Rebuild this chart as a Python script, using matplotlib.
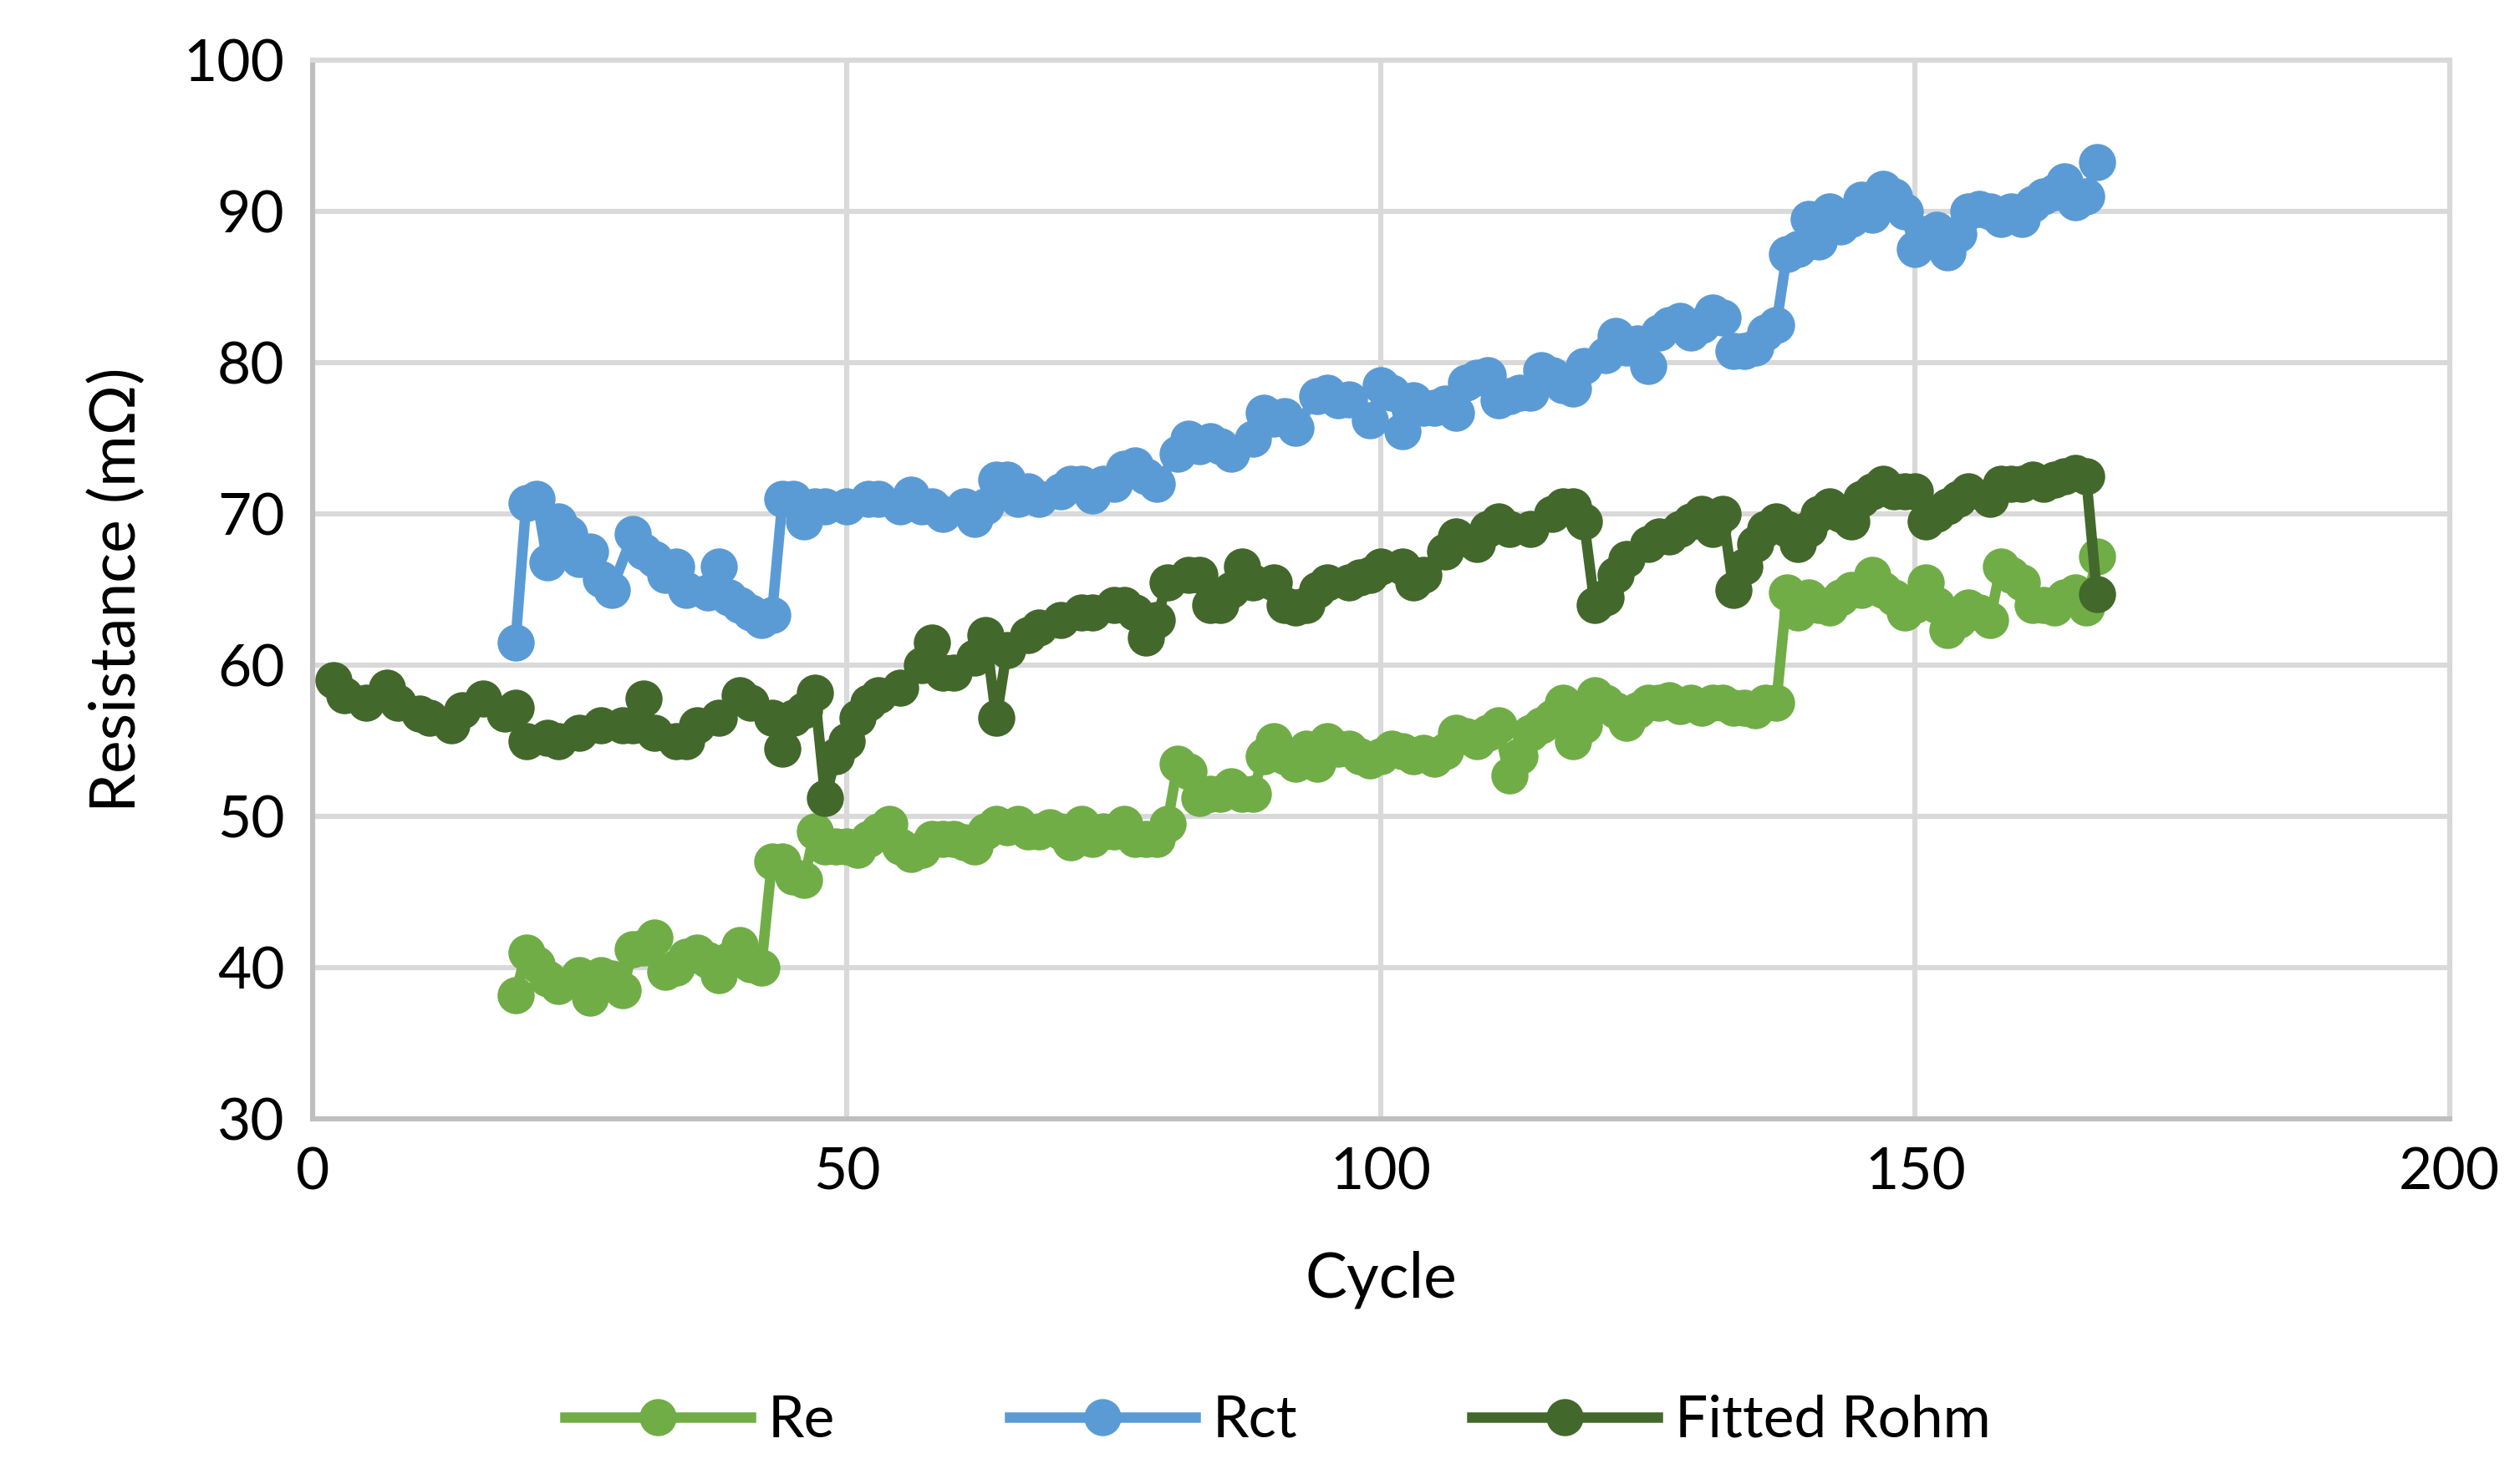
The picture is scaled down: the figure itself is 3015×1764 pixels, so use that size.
import numpy as np
import matplotlib
matplotlib.use("Agg")
import matplotlib.pyplot as plt

plt.rcParams['font.family'] = ['Lato', 'DejaVu Sans']

# Fitted Rohm
rohm_x = [2, 3, 5, 7, 8, 10, 11, 13, 14, 16, 18, 19, 20, 22, 23, 25, 27, 29, 30, 31, 32, 34, 35, 36, 38, 40, 41, 43,
          44, 45, 46, 47, 48, 49, 50, 51, 52, 53, 55, 57, 58, 59, 60, 62, 63, 64, 65, 67, 68, 70, 72, 73, 75, 76, 77,
          78, 79, 80, 82, 83, 84, 85, 86, 87, 88, 90, 91, 92, 93, 94, 95, 97, 98, 99, 100, 102, 103, 104, 106, 107,
          109, 110, 111, 112, 114, 116, 117, 118, 119, 120, 121, 122, 123, 125, 126, 127, 128, 129, 130, 131, 132,
          133, 134, 135, 136, 137, 138, 139, 140, 141, 142, 143, 144, 145, 146, 147, 148, 149, 150, 151, 152, 153,
          154, 155, 157, 158, 159, 160, 161, 162, 163, 164, 165, 166, 167]
rohm_y = [59, 58, 57.5, 58.5, 57.5, 56.8, 56.5, 56, 57, 57.8, 56.8, 57.2, 55, 55.2, 55, 55.5, 56, 56, 56, 57.8, 55.5,
          55, 55, 56, 56.5, 58, 57.5, 56.5, 54.5, 56.5, 57, 58.2, 51.2, 54, 55, 56.5, 57.5, 58, 58.5, 60, 61.5, 59.5,
          59.5, 60.5, 62, 56.5, 61, 62, 62.5, 63, 63.5, 63.5, 64, 64, 63.5, 61.8, 63, 65.5, 66, 66, 64, 64, 65, 66.5,
          65.5, 65.5, 64, 63.8, 64, 65, 65.5, 65.5, 65.8, 66, 66.5, 66.5, 65.5, 66, 67.5, 68.5, 68, 69, 69.5, 69, 69,
          70, 70.5, 70.5, 69.5, 64, 64.5, 66, 67, 68, 68.5, 68.5, 69, 69.5, 70, 69, 70, 65, 66.5, 68, 69, 69.5, 69,
          68, 69, 70, 70.5, 70, 69.5, 71, 71.5, 72, 71.5, 71.5, 71.5, 69.5, 70, 70.5, 71, 71.5, 71, 72, 72, 72, 72.3,
          72, 72.3, 72.5, 72.7, 72.5, 64.7]

# Rct
rct_x = [19, 20, 21, 22, 23, 24, 25, 26, 27, 28, 30, 31, 32, 33, 34, 35, 37, 38, 39, 40, 41, 42, 43, 44, 45, 46, 47,
         48, 50, 52, 53, 55, 56, 57, 58, 59, 61, 62, 63, 64, 65, 66, 67, 68, 70, 71, 72, 73, 74, 75, 76, 77, 78, 79,
         81, 82, 83, 84, 85, 86, 88, 89, 90, 91, 92, 94, 95, 96, 97, 99, 100, 101, 102, 103, 104, 105, 106, 107, 108,
         109, 110, 111, 112, 113, 114, 115, 116, 117, 118, 119, 121, 122, 123, 124, 125, 126, 127, 128, 129, 130,
         131, 132, 133, 134, 135, 136, 137, 138, 139, 140, 141, 142, 143, 144, 145, 146, 147, 148, 149, 150, 151,
         152, 153, 154, 155, 156, 157, 158, 159, 160, 161, 162, 163, 164, 165, 166, 167]
rct_y = [61.5, 70.7, 71, 66.8, 69.5, 68.7, 67, 67.5, 65.7, 65, 68.7, 67.5, 67, 66, 66.5, 65, 64.8, 66.5, 64.5, 64,
         63.5, 63, 63.3, 71, 71, 69.5, 70.5, 70.5, 70.5, 71, 71, 70.5, 71.3, 70.5, 70.5, 70, 70.5, 69.7, 70.5, 72.3,
         72.3, 71, 71.5, 71, 71.5, 72, 72, 71.2, 72, 72, 73, 73.2, 72.5, 72, 74, 75, 74.5, 74.8, 74.5, 74, 75, 76.7,
         76.3, 76.5, 75.7, 77.8, 78, 77.5, 77.6, 76.2, 78.5, 78, 75.5, 77.5, 77, 77, 77.3, 76.7, 78.7, 79, 79.2,
         77.5, 77.8, 78, 78, 79.5, 79.2, 78.5, 78.3, 79.8, 80.5, 81.8, 81, 81.3, 79.8, 82, 82.5, 82.8, 82, 82.5,
         83.3, 83, 80.8, 80.8, 81, 82, 82.5, 87.2, 87.5, 89.5, 88, 90, 89, 89.5, 90.8, 89.8, 91.5, 91, 90, 87.5,
         88.5, 88.8, 87.3, 88.5, 90, 90.2, 90, 89.5, 90, 89.5, 90.5, 91, 91.3, 92, 90.6, 91, 93.3]

# Re
re_x = list(range(19, 24)) + list(range(25, 168))
re_y = [38.2, 41, 40.2, 39.3, 38.8, 39.5, 38, 39.5, 39.3, 38.5, 41.2, 41.3, 42, 39.7, 40, 40.7, 41, 40.5, 39.5, 40.5,
        41.5, 40.2, 40, 47, 47, 46, 45.8, 49, 48, 48, 48, 47.8, 48.5, 49, 49.5, 48, 47.5, 47.8, 48.5, 48.5, 48.5,
        48.3, 48, 49, 49.5, 49.3, 49.5, 49, 49, 49.3, 49, 48.3, 49.5, 48.5, 49, 49, 49.5, 48.5, 48.5, 48.5, 49.5,
        53.5, 53, 51.2, 51.5, 51.5, 52, 51.5, 51.5, 54, 55, 54, 53.5, 54.5, 53.5, 55, 54.5, 54.5, 54, 53.7, 54, 54.5,
        54.3, 54, 54.2, 53.8, 54.3, 55.5, 55.3, 55, 55.5, 56, 52.7, 54, 55.5, 56, 56.5, 57.5, 55, 56, 58, 57.5, 57,
        56.2, 57, 57.5, 57.5, 57.7, 57.3, 57.5, 57.2, 57.5, 57.5, 57.2, 57.2, 57, 57.5, 57.5, 64.8, 63.5, 64.5, 64,
        63.8, 64.5, 65, 65, 66, 65, 64.5, 63.5, 64, 65.5, 64, 62.3, 63, 63.8, 63.5, 63, 66.5, 66, 65.5, 64, 64, 63.8,
        64.5, 64.8, 63.8, 67.2]

fig = plt.figure(figsize=(15.075, 8.82), dpi=200)
ax = fig.add_axes([0.124, 0.241, 0.848, 0.718])

style = dict(linewidth=4.5, marker='o', markersize=16, markeredgewidth=0)
ax.plot(re_x, re_y, color='#70AD47', label='Re', **style)
ax.plot(rct_x, rct_y, color='#5B9BD5', label='Rct', **style)
ax.plot(rohm_x, rohm_y, color='#43682B', label='Fitted Rohm', **style)

ax.set_xlim(0, 200)
ax.set_ylim(30, 100)
ax.set_xticks(np.arange(0, 201, 50))
ax.set_yticks(np.arange(30, 101, 10))
ax.grid(color='#D9D9D9', linewidth=2.2)
ax.set_axisbelow(True)
for s in ax.spines.values():
    s.set_color('#D9D9D9')
    s.set_linewidth(2.2)
ax.spines['left'].set_color('#BFBFBF')
ax.spines['bottom'].set_color('#BFBFBF')
ax.tick_params(length=0, labelsize=25, pad=12)
ax.set_xlabel('Cycle', fontsize=27, labelpad=22)
ax.set_ylabel('Resistance (mΩ)', fontsize=27, labelpad=16)

fig.legend(loc='center', bbox_to_anchor=(0.507, 0.036), ncol=3, frameon=False,
           fontsize=25, handlelength=3.2, columnspacing=3.0, handletextpad=0.3)

fig.savefig('out.png', dpi=200)
